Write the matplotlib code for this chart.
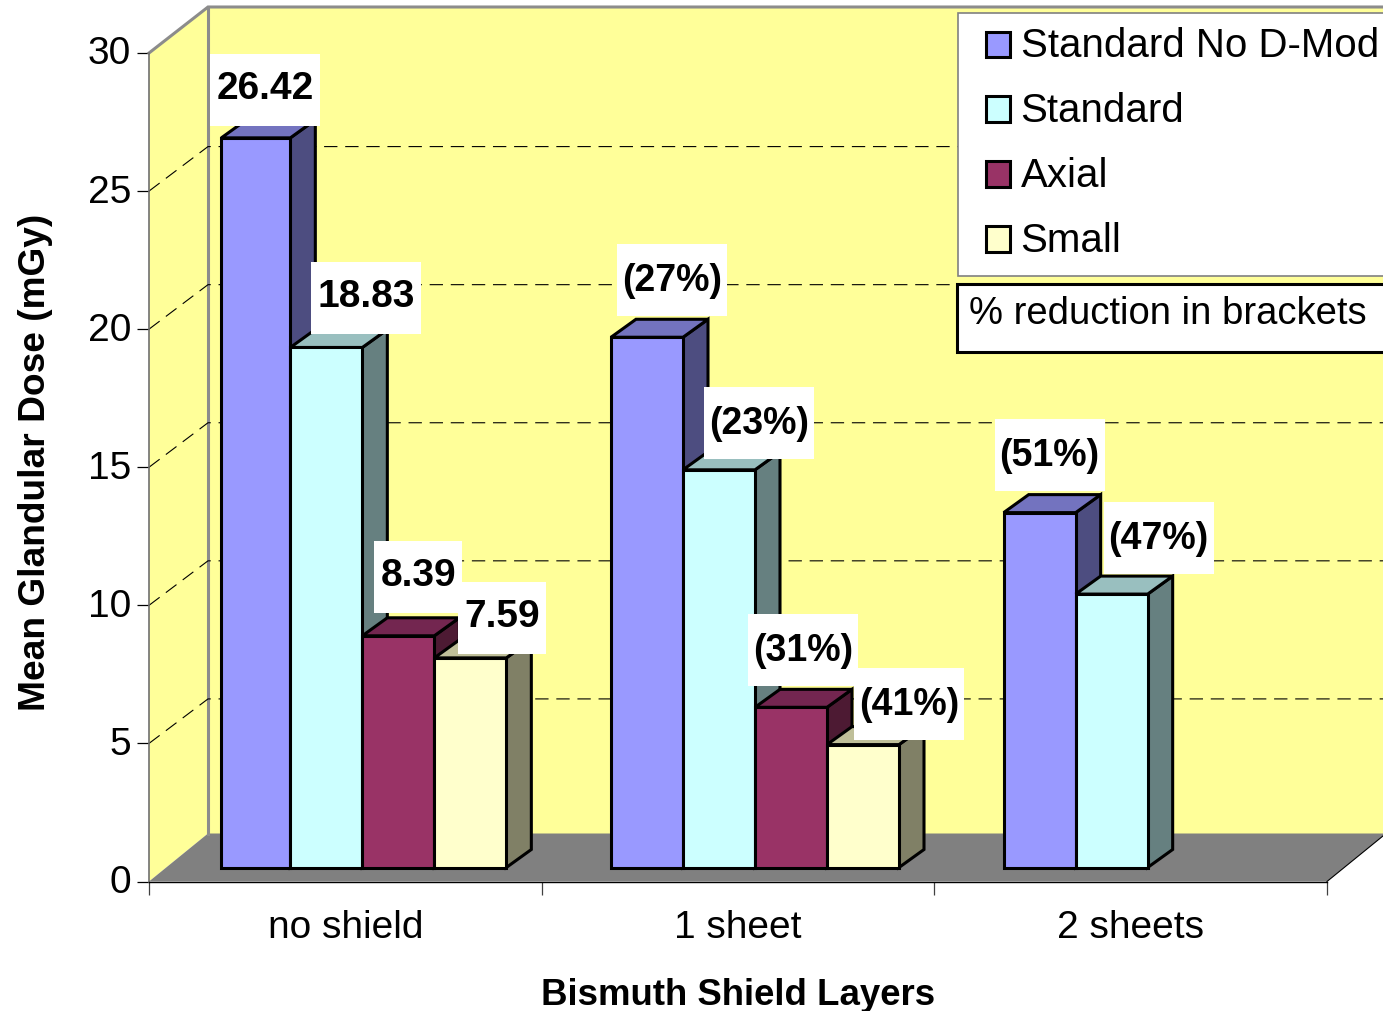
import matplotlib
matplotlib.use("Agg")
import matplotlib.pyplot as plt
from matplotlib.patches import Polygon, Rectangle
from matplotlib.transforms import ScaledTranslation

plt.rcParams["font.family"] = ["Liberation Sans", "DejaVu Sans"]

# Chart data
categories = ["no shield", "1 sheet", "2 sheets"]
series_names = ["Standard No D-Mod", "Standard", "Axial", "Small"]
standard_no_dmod = [26.42, 19.2, 12.85]
standard = [18.83, 14.4, 9.9]
axial = [8.39, 5.8, None]
small = [7.59, 4.45, None]
series_values = [standard_no_dmod, standard, axial, small]
labels_no_dmod = ["26.42", "(27%)", "(51%)"]
labels_standard = ["18.83", "(23%)", "(47%)"]
labels_axial = ["8.39", "(31%)", None]
labels_small = ["7.59", "(41%)", None]
series_labels = [labels_no_dmod, labels_standard, labels_axial, labels_small]
y_ticks = [0, 5, 10, 15, 20, 25, 30]

# Styling: front, top and side face colours per series
front = ["#9999FF", "#CCFFFF", "#993366", "#FFFFCC"]
top = ["#7373BF", "#99BFBF", "#732650", "#BFBF99"]
side = ["#4D4D80", "#668080", "#4D1A33", "#808066"]
WALL = "#FFFF99"
FLOOR = "#808080"

W, H = 1383, 1012
L, R, T, B = 149, 1327, 54, 882.5     # front plane of the plot box, in pixels
fig = plt.figure(figsize=(W / 100, H / 100), dpi=100, facecolor="white")
ax = fig.add_axes([L / W, 1 - B / H, (R - L) / W, (B - T) / H])
ax.set_xlim(0, 3)
ax.set_ylim(0, 30)
ax.patch.set_visible(False)

PX_X = 3 / (R - L)
PX_Y = 30 / (B - T)
DEPTH_X = 59                           # oblique offset of the back wall
TOP_DEPTH_Y, GRID_DEPTH_Y, FLOOR_DEPTH_Y = 46, 44.5, 48
BAR_W = 72 * PX_X
GAP = (1 - 4 * BAR_W) / 2
FRONT_X, FRONT_Y = 17, 14              # bar front face offset from the axis plane
BAR_DX, BAR_DY = 25, 18                # bar depth
LEFT_TRIM = {(0, 0): 3}                # first bar starts slightly inside its slot


def shift(x, y, px, py):
    """Move a data point by an offset given in pixels (py upwards)."""
    return (x + px * PX_X, y + py * PX_Y)


def poly(points, **kw):
    ax.add_patch(Polygon(points, closed=True, clip_on=False, **kw))


# Back wall, side wall and floor
far_x = 3.2
back_top = shift(0, 30, DEPTH_X, TOP_DEPTH_Y)
back_bottom = shift(0, 0, DEPTH_X, FLOOR_DEPTH_Y)
poly([back_top, (far_x, back_top[1]), (far_x, back_bottom[1]), back_bottom],
     facecolor=WALL, edgecolor="none", zorder=1)
poly([(0, 0), (0, 30), back_top, back_bottom], facecolor=WALL, edgecolor="none", zorder=1)
poly([(0, 0), (3, 0), shift(3, 0, DEPTH_X, FLOOR_DEPTH_Y), back_bottom],
     facecolor=FLOOR, edgecolor="none", zorder=2)

# Wall outlines
ax.plot([0, back_top[0], far_x], [30, back_top[1], back_top[1]], color="#8C8C8C", lw=2.2,
        clip_on=False, zorder=3, solid_joinstyle="miter")
ax.plot([back_top[0], back_top[0]], [back_top[1], back_bottom[1]], color="#8C8C8C", lw=2.2,
        clip_on=False, zorder=3)
fx, fy = shift(3, 0, DEPTH_X, FLOOR_DEPTH_Y)
ax.plot([3, fx], [0, fy], color="black", lw=0.8, clip_on=False, zorder=3)

# Dashed gridlines running along the side and back walls
for v in y_ticks[1:-1]:
    gx, gy = shift(0, v, DEPTH_X, GRID_DEPTH_Y)
    ax.plot([0, gx, far_x], [v, gy, gy], color="black", lw=0.8, clip_on=False, zorder=3,
            dashes=(12, 7), dash_capstyle="butt")

# Bars, drawn left to right so that nearer faces overlap correctly
LINE = dict(edgecolor="black", linewidth=2.2, joinstyle="miter", zorder=5)
bar_tops = {}
for g in range(len(categories)):
    for s, values in enumerate(series_values):
        v = values[g]
        if v is None:
            continue
        x0, y0 = shift(g + GAP + s * BAR_W, 0, FRONT_X, FRONT_Y)
        x1 = x0 + BAR_W
        y1 = y0 + v
        bar_tops[(g, s)] = ((x0 + x1) / 2, y1)
        x0 += LEFT_TRIM.get((g, s), 0) * PX_X
        dx, dy = BAR_DX * PX_X, BAR_DY * PX_Y
        poly([(x1, y0), (x1 + dx, y0 + dy), (x1 + dx, y1 + dy), (x1, y1)],
             facecolor=side[s], **LINE)
        poly([(x0, y1), (x1, y1), (x1 + dx, y1 + dy), (x0 + dx, y1 + dy)],
             facecolor=top[s], **LINE)
        poly([(x0, y0), (x1, y0), (x1, y1), (x0, y1)],
             facecolor=front[s], **LINE)

# White value labels, offset from the top of each bar (pixels, box centre)
label_offsets = {
    (0, 0): (11, 47.5), (0, 1): (40, 49), (0, 2): (20, 59), (0, 3): (32, 40),
    (1, 0): (25, 57), (1, 1): (40, 47), (1, 2): (12, 57), (1, 3): (46, 40.5),
    (2, 0): (10, 57.5), (2, 1): (47, 56),
}
for (g, s), (ox, oy) in label_offsets.items():
    text = series_labels[s][g]
    is_percent = text.startswith("(")
    bw = 88 if len(text) == 4 else 110
    cx, cy = shift(*bar_tops[(g, s)], ox, oy)
    ax.add_patch(Rectangle((cx - bw / 2 * PX_X, cy - 36 * PX_Y), bw * PX_X, 72 * PX_Y,
                           facecolor="white", edgecolor="none", clip_on=False, zorder=6))
    ax.text(cx, cy + (0 if is_percent else 2) * PX_Y, text, ha="center", va="center",
            fontsize=27 if is_percent else 28, fontweight="bold", color="black", zorder=7)

# Axes, ticks and titles
for name in ("top", "right"):
    ax.spines[name].set_visible(False)
ax.spines["left"].set_color("#707070")
ax.spines["left"].set_linewidth(1.2)
ax.spines["bottom"].set_color("black")
ax.spines["bottom"].set_linewidth(1.0)
ax.spines["left"].set_zorder(4)
ax.spines["bottom"].set_zorder(4)
ax.set_yticks(y_ticks)
ax.set_xticks([0, 1, 2, 3])
ax.set_xticklabels([])
ax.set_xticks([0.5, 1.5, 2.5], minor=True)
ax.set_xticklabels(categories, minor=True)
ax.tick_params(axis="y", length=9, width=0.9, pad=4, labelsize=28)
ax.tick_params(axis="x", which="major", length=9.4, width=0.9, color="#404040")
ax.tick_params(axis="x", which="minor", length=0, pad=19.5, labelsize=28)
raise_labels = ScaledTranslation(0, 3.5 / 100, fig.dpi_scale_trans)
for label in ax.get_yticklabels():
    label.set_transform(label.get_transform() + raise_labels)
ax.set_xlabel("Bismuth Shield Layers", fontsize=26.4, fontweight="bold", va="center")
ax.xaxis.set_label_coords((738 - L) / (R - L), -(996 - B) / (B - T))
ax.set_ylabel("Mean Glandular Dose (mGy)", fontsize=26.7, fontweight="bold", va="center")
ax.yaxis.set_label_coords((36 - L) / (R - L), (B - 462) / (B - T))

# Legend frame, running off the right-hand side of the figure
fig.add_artist(Rectangle((958 / W, 1 - 277 / H), 500 / W, 263 / H, transform=fig.transFigure,
                         facecolor="white", edgecolor="#808080", linewidth=1.2, zorder=7))
handles = [Rectangle((0, 0), 1, 1, facecolor=c, edgecolor="black", linewidth=2.2) for c in front]
leg = fig.legend(handles, series_names, loc="upper left", fontsize=29, frameon=False,
                 bbox_to_anchor=(985.5 / W, 1 - 27.5 / H), bbox_transform=fig.transFigure,
                 borderaxespad=0, borderpad=0, handlelength=0.6, handleheight=0.6,
                 handletextpad=0.27, labelspacing=0.665)
leg.set_zorder(8)
for patch in leg.get_patches():
    patch.set_y(patch.get_y() - 1.5)

# Note box
fig.add_artist(Rectangle((957 / W, 1 - 353 / H), 500 / W, 68 / H, transform=fig.transFigure,
                         facecolor="white", edgecolor="black", linewidth=2.2, zorder=9))
fig.text(969 / W, 1 - 314 / H, "% reduction in brackets", fontsize=27.5, ha="left", va="center",
         color="black", zorder=10)

fig.savefig("out.png", dpi=100)
